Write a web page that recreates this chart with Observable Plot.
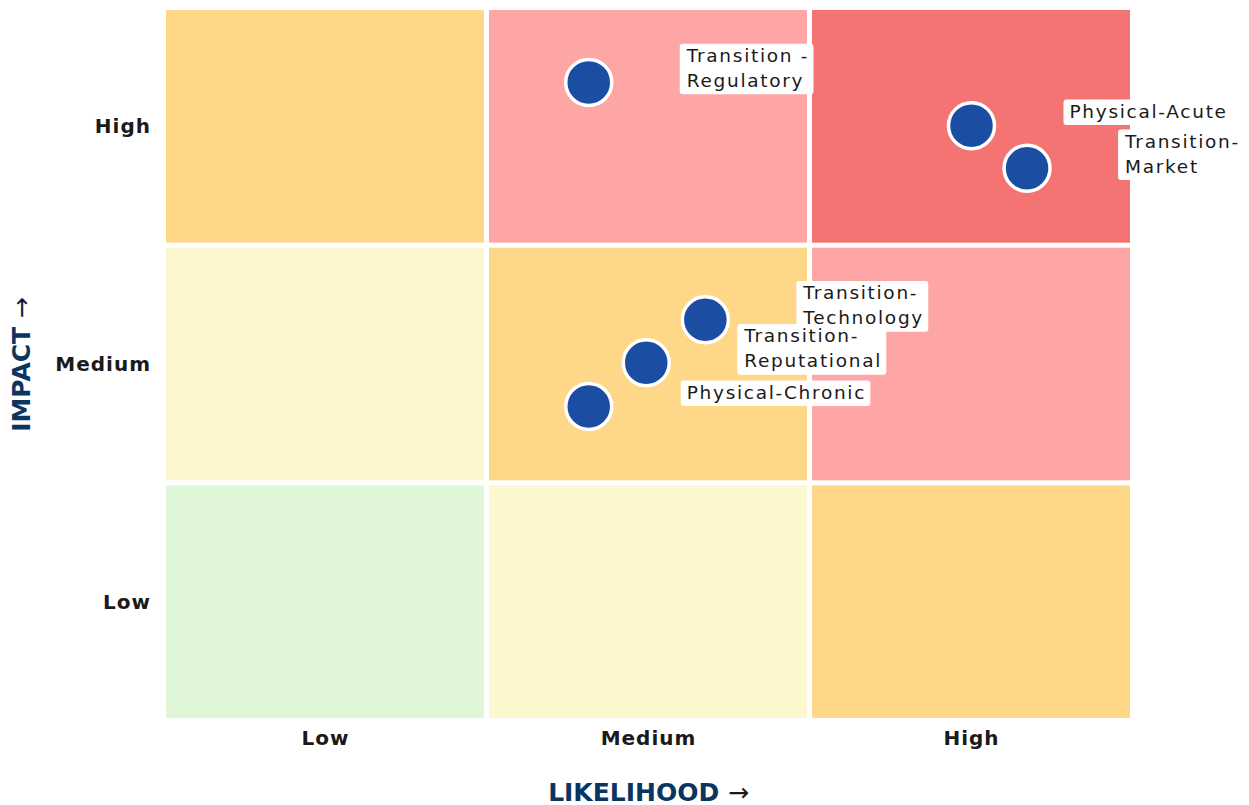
<!DOCTYPE html>
<html><head><meta charset="utf-8">
<script src="https://cdn.jsdelivr.net/npm/d3@7"></script>
<script src="https://cdn.jsdelivr.net/npm/@observablehq/plot@0.6"></script>
<style>html,body{margin:0;padding:0;background:#fff;overflow:hidden}</style>
</head><body><div id="chart"></div>
<script>
// Data
const levels = ["Low", "Medium", "High"];
const riskColors = ["#dff6d8", "#fdf7d0", "#fed788", "#fea6a5", "#f47474"];
const riskNames = ["Transition -\nRegulatory", "Physical-Acute", "Transition-\nMarket", "Transition-\nTechnology", "Transition-\nReputational", "Physical-Chronic"];
const likelihood = [1.315, 2.5, 2.672, 1.676, 1.493, 1.315];
const impact = [2.687, 2.505, 2.326, 1.688, 1.507, 1.323];
const xTitle = "LIKELIHOOD";
const yTitle = "IMPACT";

const cells = levels.flatMap((lx, i) => levels.map((ly, j) => ({x1: i, x2: i + 1, y1: j, y2: j + 1, fill: riskColors[i + j]})));
const risks = riskNames.map((name, k) => ({name, likelihood: likelihood[k], impact: impact[k]}));
const tickFmt = d => levels[Math.floor(d)];

const chart = Plot.plot({
  width: 1249, height: 805,
  marginLeft: 163.5, marginRight: 116.5, marginTop: 7.5, marginBottom: 84.5,
  x: {domain: [0, 3], axis: null},
  y: {domain: [0, 3], axis: null},
  style: {fontFamily: "'DejaVu Sans', sans-serif", background: "#fff"},
  marks: [
    Plot.rect(cells, {x1: "x1", x2: "x2", y1: "y1", y2: "y2", fill: "fill", inset: 2.5}),
    Plot.axisX({ticks: [0.5, 1.5, 2.5], tickFormat: tickFmt, tickSize: 0, tickPadding: 10, fontSize: 20, fontWeight: "bold", fill: "#1a1a1a", label: null}),
    Plot.axisY({ticks: [0.5, 1.5, 2.5], tickFormat: tickFmt, tickSize: 0, tickPadding: 13, fontSize: 20, fontWeight: "bold", fill: "#1a1a1a", label: null}),
    Plot.dot(risks, {x: "likelihood", y: "impact", r: 23, fill: "#1b4ea3", stroke: "#fff", strokeWidth: 3.5}),
    Plot.text(risks, {x: "likelihood", y: "impact", text: "name", textAnchor: "start", lineAnchor: "middle", dx: 98, dy: -16, fontSize: 18.5, lineHeight: 1.36, fill: "#1a1a1a"}),
    Plot.text([xTitle], {frameAnchor: "bottom", textAnchor: "middle", lineAnchor: "middle", dy: 71.5, fontSize: 25, fontWeight: "bold", fill: "#0c3461"}),
    Plot.text([yTitle], {frameAnchor: "left", textAnchor: "middle", lineAnchor: "middle", rotate: -90, dx: -142, fontSize: 25, fontWeight: "bold", fill: "#0c3461"})
  ]
});
document.getElementById("chart").appendChild(chart);
const NS = "http://www.w3.org/2000/svg";

// tick label spacing
chart.querySelectorAll('g[aria-label="x-axis tick label"] text, g[aria-label="y-axis tick label"] text').forEach(t => t.setAttribute("letter-spacing", "1px"));

const textGroups = chart.querySelectorAll('g[aria-label="text"]');
const labelGroup = textGroups[0];
const titleGroups = [textGroups[1], textGroups[2]];

// axis title arrows (the rotated one points up once rotated)
titleGroups.forEach(g => g && g.querySelectorAll("text").forEach(t => {
  const s = t.textContent;
  t.textContent = "";
  const a = document.createElementNS(NS, "tspan");
  a.textContent = s + " ";
  const b = document.createElementNS(NS, "tspan");
  b.textContent = "\u2192";
  b.setAttribute("font-weight", "normal");
  b.setAttribute("fill", "#1a1a1a");
  t.append(a, b);
}));

// label boxes
if (labelGroup) labelGroup.querySelectorAll("text").forEach(t => {
  t.setAttribute("letter-spacing", "1.7px");
  const bb = t.getBBox();
  const padX = 6, padTop = 1.2, padBottom = 3.3;
  const r = document.createElementNS(NS, "rect");
  r.setAttribute("x", bb.x - padX);
  r.setAttribute("y", bb.y - padTop);
  r.setAttribute("width", bb.width + 2 * padX - 1.7);
  r.setAttribute("height", bb.height + padTop + padBottom);
  r.setAttribute("rx", 3);
  r.setAttribute("fill", "#fff");
  if (t.getAttribute("transform")) r.setAttribute("transform", t.getAttribute("transform"));
  t.parentNode.insertBefore(r, t);
});
</script>
</body></html>
